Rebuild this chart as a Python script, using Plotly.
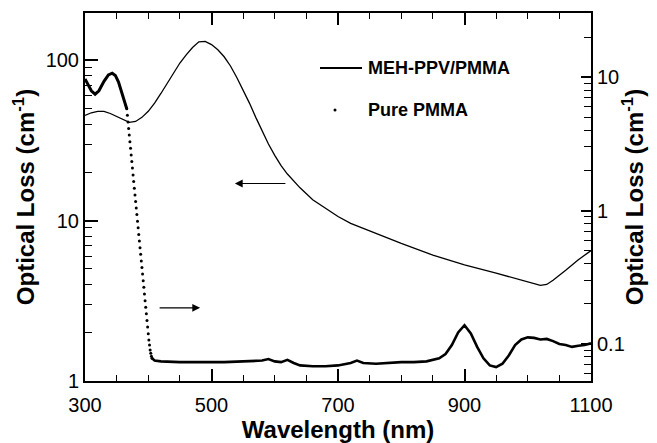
import plotly.graph_objects as go

# MEH-PPV/PMMA (left axis)
meh_wl = [300, 310, 320, 330, 340, 350, 360, 370, 380, 390, 400, 410, 420, 430, 440, 450, 460, 470,
          480, 490, 500, 510, 520, 530, 540, 550, 560, 570, 580, 590, 600, 610, 620, 640, 660, 680,
          700, 720, 750, 800, 850, 900, 950, 1000, 1020, 1030, 1040, 1060, 1080, 1100]
meh_loss = [45.3, 47, 48, 48, 46.5, 44.5, 42.5, 41, 41.5, 44, 48, 54, 62, 72, 83, 96, 108, 120,
            130, 131, 125, 116, 105, 92, 78, 65, 54, 44, 36, 30, 25.5, 22, 19.5, 16, 13.5, 12,
            10.6, 9.6, 8.6, 7.2, 6.1, 5.3, 4.7, 4.15, 3.95, 4.0, 4.25, 4.9, 5.7, 6.5]

# Pure PMMA (right axis): dense start, sparse dotted drop, dense flat tail
pmma_a_wl = [300, 305, 310, 316, 322, 330, 337, 343, 348, 353, 358, 362, 366]
pmma_a_loss = [9.7, 8.8, 7.9, 7.45, 7.9, 9.3, 10.4, 10.7, 10.3, 9.2, 7.6, 6.6, 5.8]

pmma_b_wl = [366, 367, 368, 369, 370, 371, 372, 373, 374, 375, 376, 377, 378, 379, 380, 381, 382,
             383, 384, 385, 386, 387, 388, 389, 390, 391, 392, 393, 394, 395, 396, 397, 398, 399,
             400, 401, 402, 403, 404, 405, 406]
pmma_b_loss = [5.8, 5.18, 4.62, 4.12, 3.68, 3.28, 2.93, 2.61, 2.33, 2.08, 1.85, 1.65, 1.47, 1.31,
               1.17, 1.046, 0.933, 0.832, 0.742, 0.662, 0.591, 0.527, 0.470, 0.419, 0.374, 0.334,
               0.298, 0.266, 0.237, 0.211, 0.188, 0.168, 0.150, 0.134, 0.119, 0.107, 0.098, 0.090,
               0.085, 0.081, 0.078]

pmma_c_wl = [406, 410, 420, 450, 480, 500, 520, 550, 580, 590, 600, 610, 620, 630, 640, 660, 680,
             700, 720, 730, 740, 760, 780, 800, 820, 840, 860, 870, 880, 890, 900, 910, 920, 930,
             940, 950, 960, 970, 980, 990, 1000, 1010, 1020, 1030, 1040, 1050, 1060, 1070, 1080,
             1090, 1100]
pmma_c_loss = [0.078, 0.075, 0.074, 0.073, 0.073, 0.073, 0.073, 0.074, 0.075, 0.077, 0.074, 0.073,
               0.076, 0.072, 0.069, 0.068, 0.068, 0.069, 0.072, 0.075, 0.072, 0.071, 0.072, 0.073,
               0.073, 0.074, 0.078, 0.084, 0.098, 0.122, 0.138, 0.12, 0.095, 0.078, 0.069, 0.067,
               0.071, 0.082, 0.098, 0.108, 0.112, 0.111, 0.108, 0.109, 0.105, 0.1, 0.098, 0.095,
               0.097, 0.098, 0.101]

left_ticks = [1, 10, 100]
left_labels = ["1", "10", "100"]
right_ticks = [0.1, 1, 10]
right_labels = ["0.1", "1", "10"]
x_ticks = [300, 500, 700, 900, 1100]

legend_names = ["MEH-PPV/PMMA", "Pure PMMA"]

FONT = "Liberation Sans, Arial, sans-serif"

# the page body has an 8px margin: figure is drawn at (8, 8) in the window
OFF = 8
W, H = 649, 435
L, R, T, B = 85 - OFF, 649 - (591 - OFF), 13 - OFF, 435 - (381 - OFF)
pw, ph = W - L - R, H - T - B

fig = go.Figure()
fig.add_trace(go.Scatter(x=meh_wl, y=meh_loss, mode="lines", line=dict(color="black", width=1.3),
                         name=legend_names[0], showlegend=False, yaxis="y"))
fig.add_trace(go.Scatter(x=pmma_a_wl, y=pmma_a_loss, mode="lines", line=dict(color="black", width=3),
                         showlegend=False, yaxis="y2"))
fig.add_trace(go.Scatter(x=pmma_b_wl, y=pmma_b_loss, mode="markers",
                         marker=dict(color="black", size=3), name=legend_names[1],
                         showlegend=False, yaxis="y2"))
fig.add_trace(go.Scatter(x=pmma_c_wl, y=pmma_c_loss, mode="lines", line=dict(color="black", width=2.6),
                         showlegend=False, yaxis="y2"))

left_minor = [2, 3, 4, 5, 6, 7, 8, 9, 20, 30, 40, 50, 60, 70, 80, 90, 200]
right_minor = [0.06, 0.07, 0.08, 0.09, 0.2, 0.3, 0.4, 0.5, 0.6, 0.7, 0.8, 0.9,
               2, 3, 4, 5, 6, 7, 8, 9, 20]

fig.update_layout(
    width=W, height=H,
    margin=dict(l=L, r=R, t=T, b=B, autoexpand=False),
    paper_bgcolor="white", plot_bgcolor="white",
    font=dict(family=FONT, color="black", size=20),
    xaxis=dict(range=[300, 1100], tickvals=x_ticks, ticks="inside", ticklen=12, tickwidth=1.5,
               tickcolor="black", showline=True, linecolor="black", linewidth=2, mirror="ticks",
               showgrid=False, zeroline=False, ticklabelstandoff=5, automargin=False,
               minor=dict(dtick=50, ticks="inside", ticklen=6, tickwidth=1.3, tickcolor="black",
                          showgrid=False),
               title=dict(text="<b>Wavelength (nm)</b>", font=dict(size=24), standoff=4),
               tickfont=dict(size=20)),
    yaxis=dict(type="log", range=[0, 2.294], tickvals=left_ticks, ticktext=left_labels,
               ticks="inside", ticklen=13, tickwidth=1.5, tickcolor="black", showline=True,
               linecolor="black", linewidth=2, showgrid=False, zeroline=False, automargin=False,
               minor=dict(tickvals=left_minor, ticks="inside", ticklen=7, tickwidth=1.3,
                          tickcolor="black", showgrid=False),
               title=dict(text="<b>Optical Loss (cm<sup>-1</sup>)</b>", font=dict(size=24), standoff=4),
               tickfont=dict(size=20)),
    yaxis2=dict(type="log", range=[-1.278, 1.481], overlaying="y", side="right",
                tickvals=right_ticks, ticktext=right_labels, automargin=False,
                ticks="inside", ticklen=10, tickwidth=1.5, tickcolor="black", showline=True,
                linecolor="black", linewidth=2, showgrid=False, zeroline=False,
                minor=dict(tickvals=right_minor, ticks="inside", ticklen=7, tickwidth=1.3,
                           tickcolor="black", showgrid=False),
                title=dict(text="<b>Optical Loss (cm<sup>-1</sup>)</b>", font=dict(size=24), standoff=2),
                tickfont=dict(size=20)),
)

# arrows pointing to the respective axes
fig.add_annotation(x=537, y=1.231, xref="x", yref="y", ax=52, ay=0, axref="pixel", ayref="pixel",
                   text="", showarrow=True, arrowhead=2, arrowsize=1.3, arrowwidth=1.2,
                   arrowcolor="black")
fig.add_annotation(x=482, y=0.456, xref="x", yref="y", ax=-42, ay=0, text="", showarrow=True,
                   arrowhead=2, arrowsize=1.3, arrowwidth=1.2, arrowcolor="black")

# legend, positioned in window pixels converted to paper coords
def px(xp):
    return (xp - OFF - L) / pw
def py(yp):
    return (H - B - (yp - OFF)) / ph

fig.add_shape(type="line", xref="paper", yref="paper", x0=px(320), x1=px(362), y0=py(68), y1=py(68),
              line=dict(color="black", width=2))
fig.add_shape(type="circle", xref="paper", yref="paper", x0=px(333.5), x1=px(336.5),
              y0=py(111.5), y1=py(108.5), fillcolor="black", line=dict(color="black", width=0))
fig.add_annotation(xref="paper", yref="paper", x=px(366), y=py(68), text="<b>%s</b>" % legend_names[0],
                   showarrow=False, xanchor="left", yanchor="middle", font=dict(size=18))
fig.add_annotation(xref="paper", yref="paper", x=px(366), y=py(110), text="<b>%s</b>" % legend_names[1],
                   showarrow=False, xanchor="left", yanchor="middle", font=dict(size=18))

fig.write_html("out.html")
